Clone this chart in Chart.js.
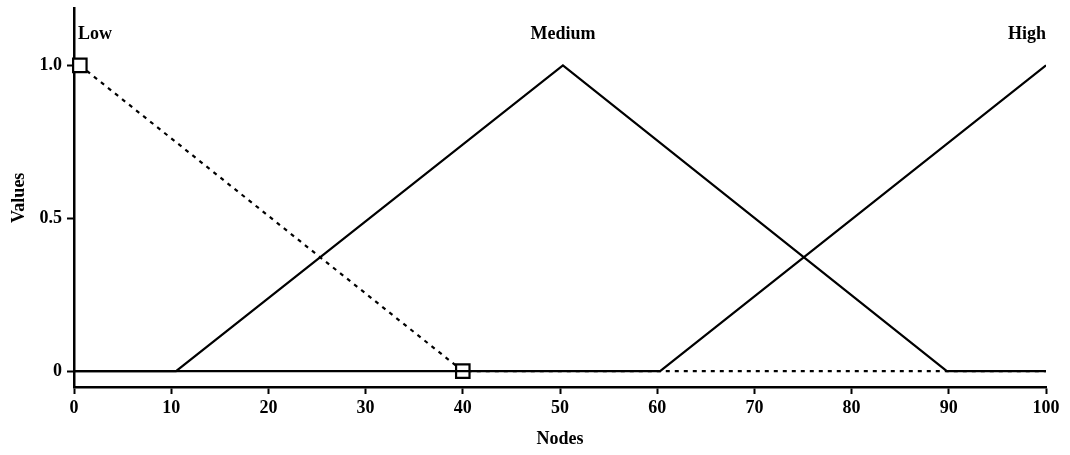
<!DOCTYPE html>
<html><head><meta charset="utf-8">
<script src="https://cdn.jsdelivr.net/npm/chart.js@4"></script>
<style>html,body{margin:0;padding:0;background:#fff}#wrap{width:1070px;height:455px}</style>
</head><body><div id="wrap"><canvas id="c" width="1070" height="455"></canvas></div>
<script>
const lowX = [0.6, 40, 100];
const lowY = [1, 0, 0];
const mediumX = [0, 10.5, 50.3, 89.8, 100];
const mediumY = [0, 0, 1, 0, 0];
const highX = [0, 60.3, 100];
const highY = [0, 0, 1];
const xTicks = [0, 10, 20, 30, 40, 50, 60, 70, 80, 90, 100];
const yTicks = [0, 0.5, 1.0];
const yTickLabels = ['0', '0.5', '1.0'];
const seriesLabels = [{text: 'Low', x: 0.4, align: 'left'}, {text: 'Medium', x: 50.3, align: 'center'}, {text: 'High', x: 100, align: 'right'}];
const labelY = 1.10;

const pts = (xs, ys) => xs.map((x, i) => ({x, y: ys[i]}));
const FONT = '"Liberation Serif", "Times New Roman", serif';

const labelPlugin = {
  id: 'seriesLabels',
  afterDatasetsDraw(chart) {
    const ctx = chart.ctx, xs = chart.scales.x, ys = chart.scales.y;
    ctx.save();
    ctx.fillStyle = '#000';
    ctx.font = 'bold 18px ' + FONT;
    ctx.textBaseline = 'middle';
    seriesLabels.forEach(l => {
      ctx.textAlign = l.align;
      ctx.fillText(l.text, xs.getPixelForValue(l.x), ys.getPixelForValue(labelY));
    });
    ctx.restore();
  }
};

new Chart(document.getElementById('c'), {
  type: 'line',
  data: {
    datasets: [
      {label: 'Medium', data: pts(mediumX, mediumY), borderColor: '#000', borderWidth: 2.2, pointRadius: 0, order: 1},
      {label: 'High', data: pts(highX, highY), borderColor: '#000', borderWidth: 2.2, pointRadius: 0, order: 1},
      {label: 'Low', data: pts(lowX, lowY), borderColor: '#000', borderWidth: 2.2, borderDash: [4, 5],
       pointStyle: 'rect', pointRadius: [9.5, 9.5, 0], pointBorderWidth: 2.2, pointBackgroundColor: '#fff', pointBorderColor: '#000', order: 2, clip: false}
    ]
  },
  options: {
    responsive: false,
    animation: false,
    events: [],
    layout: {autoPadding: false, padding: {left: 5, right: 24, top: 4, bottom: 0}},
    plugins: {legend: {display: false}, tooltip: {enabled: false}},
    elements: {line: {tension: 0}},
    scales: {
      x: {
        type: 'linear', min: 0, max: 100,
        grid: {display: true, drawOnChartArea: false, drawTicks: true, tickLength: 7, tickColor: '#000', tickWidth: 2, color: '#000'},
        border: {display: true, color: '#000', width: 2.5},
        afterBuildTicks: s => { s.ticks = xTicks.map(v => ({value: v})); },
        ticks: {color: '#000', font: {family: FONT, size: 18, weight: 'bold'}, padding: 4, maxRotation: 0, autoSkip: false},
        title: {display: true, text: 'Nodes', color: '#000', font: {family: FONT, size: 18, weight: 'bold'}, padding: {top: 4, bottom: 5}},
        afterFit: s => { s.height = 68; }
      },
      y: {
        type: 'linear', min: -0.0521, max: 1.1857,
        grid: {display: true, drawOnChartArea: false, drawTicks: true, tickLength: 7, tickColor: '#000', tickWidth: 2, color: '#000'},
        border: {display: true, color: '#000', width: 2.5},
        afterBuildTicks: s => { s.ticks = yTicks.map(v => ({value: v})); },
        ticks: {color: '#000', font: {family: FONT, size: 18, weight: 'bold', lineHeight: 0.4}, padding: 5,
          callback: (v, i) => yTickLabels[i]},
        title: {display: true, text: 'Values', color: '#000', font: {family: FONT, size: 18, weight: 'bold'}, padding: {top: 4, bottom: 2}},
        afterFit: s => { s.width = 69; }
      }
    }
  },
  plugins: [labelPlugin]
});
</script></body></html>
